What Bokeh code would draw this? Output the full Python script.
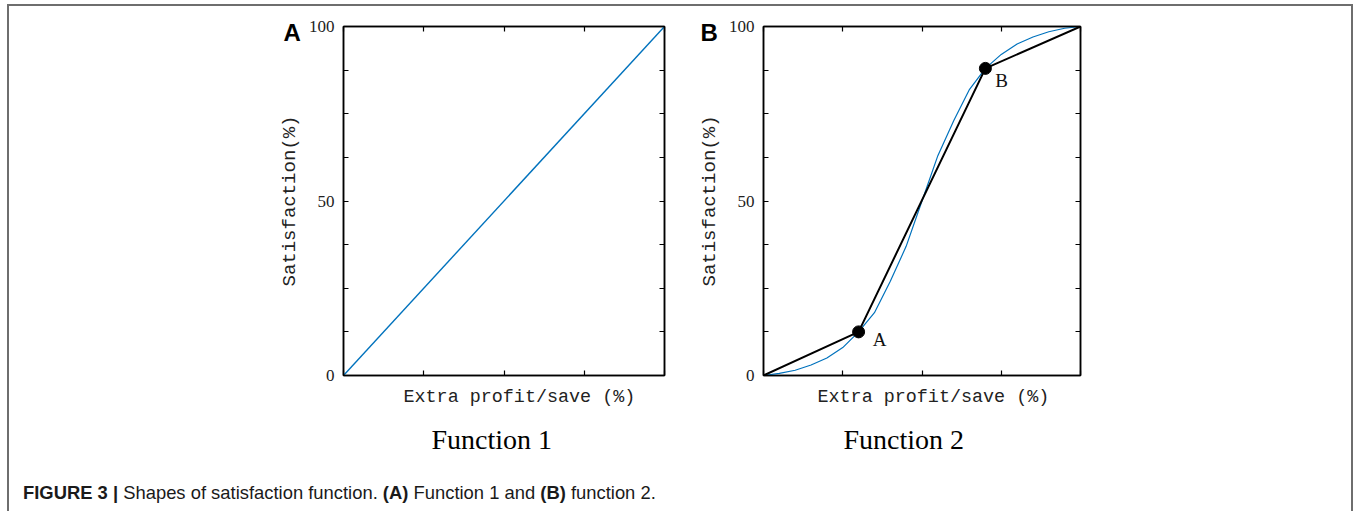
import numpy as np
from bokeh.plotting import figure
from bokeh.models import (Label, FixedTicker, LinearAxis, Range1d,
                          CustomJSTickFormatter, Title, Div)
from bokeh.layouts import row, column
from bokeh.embed import file_html
from bokeh.resources import INLINE

# ---------------- data ----------------
f1_x = [0, 100]
f1_y = [0, 100]

f2_curve_x = [0, 5, 10, 15, 20, 25, 30, 35, 40, 45, 50, 55, 60, 65, 70, 75, 80, 85, 90, 95, 100]
f2_curve_y = [0, 0.6, 1.5, 3, 5, 8, 12.5, 18, 27, 37, 50, 63, 73, 82, 88, 92, 95, 97, 98.5, 99.5, 100]

f2_piece_x = [0, 30, 70, 100]
f2_piece_y = [0, 12.5, 88, 100]

f2_pts_x = [30, 70]
f2_pts_y = [12.5, 88]
f2_pts_labels = ["A", "B"]

y_major = [0, 50, 100]
y_minor = [12.5, 25, 37.5, 62.5, 75, 87.5]
x_ticks = [0, 25, 50, 75, 100]

y_label = "Satisfaction(%)"
x_label = "Extra profit/save (%)"
panel_titles = ["Function 1", "Function 2"]

BLUE = "#0072BD"
MONO = "Liberation Mono"
SERIF = "Liberation Serif"
SANS = "Liberation Sans"
TXT = "#222222"

FH = 349
MB_TOP = 20
MB_BOTTOM = 85


def make_panel(fw, mb_left, mb_right, xlab_off, title_off, title_text, letter, letter_off):
    p = figure(frame_width=fw, frame_height=FH,
               min_border_left=mb_left, min_border_right=mb_right,
               min_border_top=MB_TOP, min_border_bottom=MB_BOTTOM,
               x_range=Range1d(0, 100), y_range=Range1d(0, 100),
               x_axis_location=None, y_axis_location=None,
               output_backend="svg", toolbar_location=None)
    p.grid.visible = False
    p.outline_line_color = "black"
    p.outline_line_width = 1.5
    p.background_fill_color = "white"
    p.border_fill_color = "white"
    blank = CustomJSTickFormatter(code="return ''")

    for side in ("left", "right"):
        ax = LinearAxis(ticker=FixedTicker(ticks=y_major, minor_ticks=y_minor))
        ax.axis_line_color = "black"
        ax.axis_line_width = 1.5
        ax.major_tick_in = 5
        ax.major_tick_out = 0
        ax.minor_tick_in = 5
        ax.minor_tick_out = 0
        ax.major_tick_line_color = "black"
        ax.minor_tick_line_color = "black"
        ax.major_tick_line_width = 1.2
        ax.minor_tick_line_width = 1.2
        if side == "left":
            ax.major_label_text_font = SERIF
            ax.major_label_text_font_size = "17px"
            ax.major_label_text_color = TXT
            ax.major_label_standoff = 9
            ax.axis_label = y_label
            ax.axis_label_text_font = MONO
            ax.axis_label_text_font_size = "19px"
            ax.axis_label_text_font_style = "normal"
            ax.axis_label_text_color = TXT
            ax.axis_label_standoff = 5
        else:
            ax.formatter = blank
            ax.major_label_standoff = 0
        p.add_layout(ax, side)

    for side in ("below", "above"):
        ax = LinearAxis(ticker=FixedTicker(ticks=x_ticks))
        ax.formatter = blank
        ax.major_label_standoff = 0
        ax.axis_line_color = "black"
        ax.axis_line_width = 1.5
        ax.major_tick_in = 5
        ax.major_tick_out = 0
        ax.minor_tick_line_color = None
        ax.major_tick_line_color = "black"
        ax.major_tick_line_width = 1.2
        p.add_layout(ax, side)

    p.add_layout(Title(text=x_label, align="left", offset=xlab_off, standoff=18,
                       text_font=MONO, text_font_size="18.4px", text_font_style="normal",
                       text_color=TXT), "below")
    p.add_layout(Title(text=title_text, align="left", offset=title_off, standoff=10,
                       text_font=SERIF, text_font_size="28px", text_font_style="normal",
                       text_color="black"), "below")
    p.add_layout(Title(text=letter, align="left", offset=letter_off, standoff=-38,
                       text_font=SANS, text_font_size="24px", text_font_style="bold",
                       text_color="black"), "above")
    return p


# ---------------- panel A ----------------
pa = make_panel(321, 334, 16, 60, 88, panel_titles[0], "A", -60)
pa.line(f1_x, f1_y, line_color=BLUE, line_width=1.4)

# ---------------- panel B ----------------
pb = make_panel(317, 83, 271, 54, 80, panel_titles[1], "B", -63)
pb.line(f2_curve_x, f2_curve_y, line_color=BLUE, line_width=1.2)
pb.line(f2_piece_x, f2_piece_y, line_color="black", line_width=2)
pb.scatter(f2_pts_x, f2_pts_y, size=12, fill_color="black", line_color="black")


def px_to_data(px, py, x0, xw):
    return (px - x0) / xw * 100.0, (375.0 - py) / FH * 100.0


for (lx, ly), t in zip([(879, 339), (1001, 80)], f2_pts_labels):
    dx, dy = px_to_data(lx, ly, 763.0, 317.0)
    pb.add_layout(Label(x=dx, y=dy, text=t, text_font=SERIF, text_font_size="19px",
                        text_align="center", text_baseline="middle", text_color="#111111"))

caption = Div(
    text=("<b>FIGURE 3 |</b> Shapes of satisfaction function. <b>(A)</b> Function 1 and "
          "<b>(B)</b> function 2."),
    width=1300,
    styles={"font-family": "'Liberation Sans', sans-serif",
            "font-size": "18.4px", "color": "#1a1a1a",
            "margin-left": "14px", "margin-top": "20px"})

layout = column(row(pa, pb), caption,
                styles={"border-left": "2px solid #6e6e6e",
                        "border-top": "2px solid #6e6e6e",
                        "border-right": "2px solid #6e6e6e",
                        "margin-left": "7px", "margin-top": "4px",
                        "background": "white"})

open("out.html", "w").write(file_html(layout, INLINE))
